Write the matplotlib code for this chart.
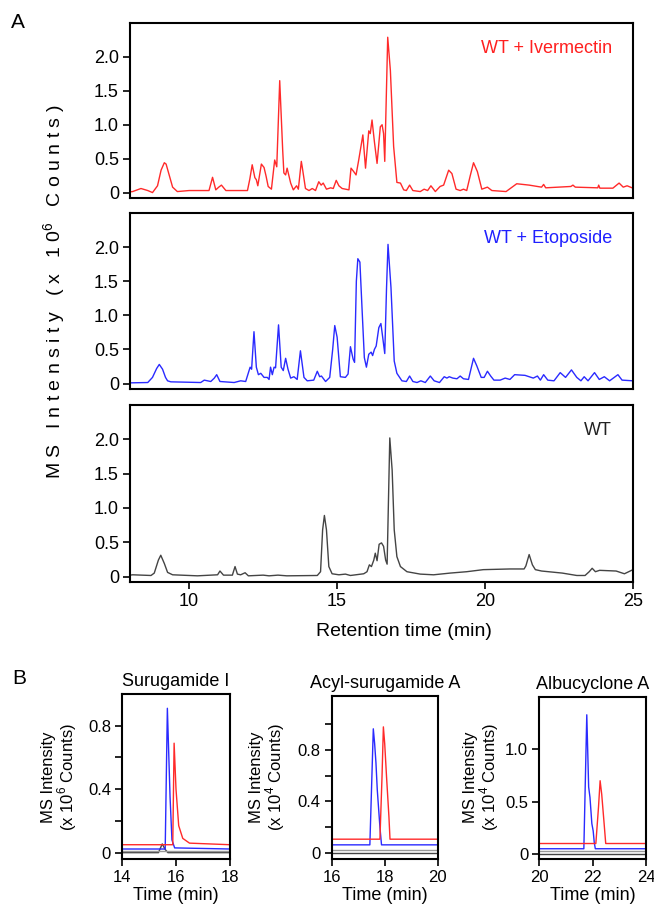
import matplotlib
matplotlib.use('Agg')
import matplotlib.pyplot as plt

plt.rcParams['font.family'] = ['Liberation Sans', 'DejaVu Sans']
plt.rcParams['mathtext.fontset'] = 'custom'
plt.rcParams['mathtext.rm'] = 'Liberation Sans'

# ---- panel A: total ion chromatograms (x 10^6 counts) ----
ivm_t = [8.0, 8.09, 8.37, 8.6, 8.76, 8.93, 9.05, 9.16, 9.22, 9.33, 9.44, 9.6, 10.0, 10.67, 10.79,
         10.9, 11.0, 11.09, 11.24, 11.97, 12.05, 12.13, 12.22, 12.27, 12.32, 12.44, 12.53, 12.6,
         12.67, 12.78, 12.89, 12.96, 13.06, 13.16, 13.2, 13.26, 13.31, 13.43, 13.52, 13.63, 13.69,
         13.79, 13.82, 13.93, 14.05, 14.16, 14.27, 14.38, 14.46, 14.53, 14.64, 14.78, 14.87, 14.97,
         15.06, 15.17, 15.4, 15.47, 15.56, 15.64, 15.73, 15.87, 15.96, 16.07, 16.12, 16.18, 16.26,
         16.35, 16.46, 16.52, 16.57, 16.61, 16.71, 16.8, 16.91, 17.02, 17.14, 17.25, 17.34, 17.45,
         17.56, 17.81, 17.94, 18.06, 18.17, 18.32, 18.48, 18.6, 18.77, 18.88, 19.02, 19.16, 19.27,
         19.38, 19.5, 19.61, 19.74, 19.89, 20.08, 20.23, 20.71, 21.07, 21.49, 21.91, 21.98, 22.05,
         22.9, 22.97, 23.05, 23.81, 23.84, 23.88, 24.32, 24.53, 24.67, 24.8, 25.0]
ivm_i = [0.01, 0.015, 0.06, 0.03, 0.0, 0.1, 0.33, 0.44, 0.42, 0.25, 0.08, 0.015, 0.03, 0.03, 0.225,
         0.04, 0.08, 0.11, 0.03, 0.03, 0.2, 0.41, 0.22, 0.19, 0.1, 0.42, 0.37, 0.24,
         0.09, 0.05, 0.48, 0.38, 1.65, 0.63, 0.29, 0.26, 0.36, 0.14, 0.04, 0.1, 0.05,
         0.46, 0.38, 0.06, 0.03, 0.06, 0.03, 0.16, 0.11, 0.14, 0.05, 0.07, 0.06, 0.18,
         0.1, 0.06, 0.04, 0.36, 0.31, 0.26, 0.48, 0.85, 0.36, 0.91, 0.87, 1.07, 0.75,
         0.43, 0.97, 1.0, 0.87, 0.46, 2.29, 1.8, 0.68, 0.15, 0.14, 0.04, 0.03, 0.11,
         0.03, 0.015, 0.05, 0.03, 0.1, 0.015, 0.09, 0.11, 0.33, 0.28, 0.05, 0.03, 0.05,
         0.03, 0.25, 0.44, 0.31, 0.05, 0.08, 0.03, 0.015, 0.13, 0.11, 0.08, 0.12, 0.07,
         0.09, 0.11, 0.08, 0.07, 0.11, 0.065, 0.065, 0.14, 0.08, 0.1, 0.065]

eto_t = [8.0, 8.6, 8.76, 8.9, 8.99, 9.1, 9.2, 9.27, 9.38, 10.39, 10.51, 10.73, 10.85, 10.93, 11.04,
         11.52, 11.74, 11.91, 12.06, 12.11, 12.19, 12.27, 12.34, 12.42, 12.53, 12.64, 12.7, 12.75,
         12.81, 12.87, 12.92, 13.02, 13.11, 13.18, 13.26, 13.34, 13.43, 13.54, 13.65, 13.76, 13.88,
         13.99, 14.21, 14.33, 14.41, 14.47, 14.61, 14.75, 14.85, 14.92, 15.0, 15.11, 15.28, 15.37,
         15.45, 15.54, 15.59, 15.65, 15.7, 15.77, 15.84, 15.92, 15.99, 16.07, 16.15, 16.2, 16.26,
         16.32, 16.41, 16.48, 16.54, 16.61, 16.67, 16.72, 16.82, 16.93, 17.02, 17.19, 17.34, 17.45,
         17.56, 17.7, 17.83, 17.98, 18.15, 18.28, 18.46, 18.62, 18.71, 18.79, 18.91, 19.05, 19.16,
         19.27, 19.44, 19.61, 19.72, 19.87, 19.97, 20.08, 20.19, 20.3, 20.51, 20.68, 20.84, 21.0,
         21.35, 21.63, 21.77, 21.87, 21.98, 22.12, 22.33, 22.54, 22.72, 22.92, 23.1, 23.24, 23.35,
         23.48, 23.7, 23.86, 24.03, 24.21, 24.49, 24.63, 25.0]
eto_i = [0.01, 0.015, 0.09, 0.22, 0.28, 0.21, 0.09, 0.04, 0.025, 0.015, 0.05, 0.03, 0.08, 0.13, 0.03,
         0.015, 0.04, 0.03, 0.24, 0.21, 0.76, 0.24, 0.13, 0.15, 0.09, 0.09, 0.06, 0.24,
         0.13, 0.24, 0.23, 0.86, 0.24, 0.19, 0.37, 0.21, 0.08, 0.1, 0.06, 0.48, 0.09,
         0.04, 0.05, 0.18, 0.1, 0.11, 0.03, 0.09, 0.5, 0.85, 0.68, 0.1, 0.09, 0.14,
         0.54, 0.36, 0.31, 1.5, 1.83, 1.78, 1.12, 0.38, 0.24, 0.43, 0.46, 0.41, 0.5,
         0.55, 0.82, 0.88, 0.68, 0.44, 1.4, 2.04, 1.41, 0.33, 0.15, 0.04, 0.03, 0.11,
         0.03, 0.015, 0.04, 0.015, 0.11, 0.04, 0.015, 0.1, 0.08, 0.1, 0.08, 0.07, 0.11,
         0.07, 0.06, 0.37, 0.26, 0.09, 0.09, 0.18, 0.11, 0.05, 0.05, 0.08, 0.06, 0.13,
         0.12, 0.08, 0.11, 0.05, 0.13, 0.05, 0.04, 0.16, 0.09, 0.2, 0.09, 0.04, 0.1,
         0.04, 0.16, 0.06, 0.1, 0.04, 0.13, 0.05, 0.04]

wt_t = [8.0, 8.09, 8.71, 8.82, 8.96, 9.04, 9.16, 9.27, 9.44, 10.28, 10.96, 11.04, 11.16, 11.46, 11.55,
        11.63, 11.74, 11.89, 12.0, 12.5, 12.7, 13.0, 13.3, 14.33, 14.44, 14.51, 14.57, 14.64, 14.72,
        14.83, 15.06, 15.28, 15.45, 15.9, 16.01, 16.09, 16.16, 16.24, 16.29, 16.35, 16.42, 16.5,
        16.57, 16.64, 16.69, 16.78, 16.86, 16.93, 17.02, 17.14, 17.36, 17.81, 18.26, 18.82, 19.38,
        19.94, 20.84, 21.32, 21.38, 21.49, 21.6, 21.7, 21.91, 22.61, 23.1, 23.38, 23.52, 23.62,
        23.73, 23.87, 24.43, 24.71, 25.0]
wt_i = [0.02, 0.025, 0.015, 0.05, 0.24, 0.31, 0.19, 0.06, 0.025, 0.01, 0.025, 0.08, 0.02, 0.02, 0.145,
        0.035, 0.025, 0.055, 0.01, 0.02, 0.01, 0.02, 0.01, 0.015, 0.07, 0.68, 0.89, 0.68, 0.145,
        0.04, 0.025, 0.035, 0.015, 0.04, 0.07, 0.17, 0.145, 0.24, 0.34, 0.23, 0.47, 0.49,
        0.44, 0.24, 0.18, 2.02, 1.55, 0.68, 0.29, 0.145, 0.07, 0.035, 0.025, 0.05, 0.07,
        0.1, 0.11, 0.11, 0.155, 0.32, 0.17, 0.1, 0.08, 0.05, 0.015, 0.015, 0.07, 0.12,
        0.07, 0.09, 0.08, 0.04, 0.1]

labels_A = ['WT + Ivermectin', 'WT + Etoposide', 'WT']
colors = {'ivm': '#ff2a2a', 'eto': '#2a2aff', 'wt': '#444444', 'ctrl': '#999999'}

# ---- panel B: extracted ion chromatograms ----
titles_B = ['Surugamide I', 'Acyl-surugamide A', 'Albucyclone A']
exp_B = ['6', '4', '4']

sur_wt_t = [14, 15.35, 15.49, 15.6, 15.7, 18]
sur_wt_i = [0, 0, 0.055, 0.02, 0, 0]
sur_ctrl_t = [14, 18]
sur_ctrl_i = [0.012, 0.012]
sur_eto_t = [14, 15.6, 15.68, 15.78, 15.85, 15.95, 18]
sur_eto_i = [0.023, 0.023, 0.91, 0.35, 0.08, 0.03, 0.023]
sur_ivm_t = [14, 15.88, 15.93, 16.0, 16.1, 16.25, 16.5, 18]
sur_ivm_i = [0.05, 0.05, 0.69, 0.4, 0.17, 0.09, 0.06, 0.05]

acy_wt_t = [16, 20]
acy_wt_i = [0, 0]
acy_ctrl_t = [16, 20]
acy_ctrl_i = [0.023, 0.023]
acy_eto_t = [16, 17.44, 17.57, 17.62, 17.67, 17.72, 17.82, 17.88, 20]
acy_eto_i = [0.063, 0.063, 0.965, 0.85, 0.7, 0.49, 0.2, 0.063, 0.063]
acy_ivm_t = [16, 17.82, 17.9, 17.95, 18.0, 18.07, 18.16, 18.2, 20]
acy_ivm_i = [0.107, 0.107, 0.6, 0.98, 0.85, 0.59, 0.28, 0.107, 0.107]

alb_wt_t = [20, 24]
alb_wt_i = [0, 0]
alb_ctrl_t = [20, 24]
alb_ctrl_i = [0.025, 0.025]
alb_eto_t = [20, 21.67, 21.78, 21.85, 21.9, 21.97, 22.02, 22.06, 22.1, 24]
alb_eto_i = [0.05, 0.05, 1.33, 0.64, 0.54, 0.29, 0.22, 0.11, 0.05, 0.05]
alb_ivm_t = [20, 22.12, 22.22, 22.28, 22.34, 22.43, 22.49, 24]
alb_ivm_i = [0.1, 0.1, 0.45, 0.7, 0.57, 0.29, 0.1, 0.1]

W, H = 654, 910
fig = plt.figure(figsize=(W / 100, H / 100), dpi=100)


def px_axes(left, top, right, bottom):
    return fig.add_axes([left / W, 1 - bottom / H, (right - left) / W, (bottom - top) / H])


def style(ax):
    for s in ax.spines.values():
        s.set_linewidth(1.5)
    ax.tick_params(direction='out', length=5, width=1.2, labelsize=12, pad=3)


# panel A
tops = [(23, 198), (213, 389), (405, 582)]
traces = [(ivm_t, ivm_i, colors['ivm']), (eto_t, eto_i, colors['eto']), (wt_t, wt_i, colors['wt'])]
text_cols = ['#ff2020', '#2020ff', '#222222']
for k, ((t0, b0), (tt, ii, c)) in enumerate(zip(tops, traces)):
    ax = px_axes(130, t0, 633, b0)
    ax.plot(tt, ii, color=c, lw=1.0)
    ax.set_xlim(8, 25)
    ax.set_ylim(-0.08, 2.5)
    ax.set_yticks([0, 0.5, 1.0, 1.5, 2.0])
    ax.set_yticklabels(['0', '0.5', '1.0', '1.5', '2.0'])
    style(ax)
    ax.tick_params(labelsize=13)
    ax.text(0.958, 0.855, labels_A[k], transform=ax.transAxes, ha='right', va='center',
            color=text_cols[k], fontsize=13)
    if k < 2:
        ax.set_xticks([])
    else:
        ax.set_xticks([10, 15, 20, 25])

fig.text(404 / W, 1 - 632 / H, 'Retention time (min)', ha='center', va='center', fontsize=14)
fig.text(55 / W, 1 - 292 / H, r'M S   I n t e n s i t y   ( x   1 0$^{6}$   C o u n t s )',
         rotation=90, ha='center', va='center', fontsize=14)
fig.text(18 / W, 1 - 22 / H, 'A', ha='center', va='center', fontsize=15)
fig.text(19 / W, 1 - 679 / H, 'B', ha='center', va='center', fontsize=15)

# panel B
b_boxes = [(122, 694, 230, 859), (331.7, 696, 437.7, 859), (539.3, 697, 646, 859)]
b_data = [
    [(sur_wt_t, sur_wt_i), (sur_ctrl_t, sur_ctrl_i), (sur_eto_t, sur_eto_i), (sur_ivm_t, sur_ivm_i)],
    [(acy_wt_t, acy_wt_i), (acy_ctrl_t, acy_ctrl_i), (acy_eto_t, acy_eto_i), (acy_ivm_t, acy_ivm_i)],
    [(alb_wt_t, alb_wt_i), (alb_ctrl_t, alb_ctrl_i), (alb_eto_t, alb_eto_i), (alb_ivm_t, alb_ivm_i)],
]
b_xlim = [(14, 18), (16, 20), (20, 24)]
b_ylim = [(-0.04, 1.0), (-0.047, 1.22), (-0.048, 1.5)]
b_yticks = [[0, 0.2, 0.4, 0.6, 0.8], [0, 0.2, 0.4, 0.6, 0.8, 1.0], [0, 0.5, 1.0]]
b_ylabels = [['0', '', '0.4', '', '0.8'], ['0', '', '0.4', '', '0.8', ''], ['0', '0.5', '1.0']]
b_ylab_x = [60, 268, 482]
trace_cols = [colors['wt'], colors['ctrl'], colors['eto'], colors['ivm']]

for k in range(3):
    ax = px_axes(*b_boxes[k])
    for (tt, ii), c in zip(b_data[k], trace_cols):
        ax.plot(tt, ii, color=c, lw=1.0)
    x0, x1 = b_xlim[k]
    ax.set_xlim(x0, x1)
    ax.set_xticks([x0, x0 + 2, x1])
    ax.set_ylim(*b_ylim[k])
    ax.set_yticks(b_yticks[k])
    ax.set_yticklabels(b_ylabels[k])
    style(ax)
    ax.set_title(titles_B[k], fontsize=13, pad=6)
    ax.set_xlabel('Time (min)', fontsize=13, labelpad=1)
    fig.text(b_ylab_x[k] / W, 1 - 777 / H,
             'MS Intensity\n(x 10$^{%s}$ Counts)' % exp_B[k],
             rotation=90, ha='center', va='center', fontsize=12, linespacing=1.0)

fig.savefig('out.png', dpi=100)
